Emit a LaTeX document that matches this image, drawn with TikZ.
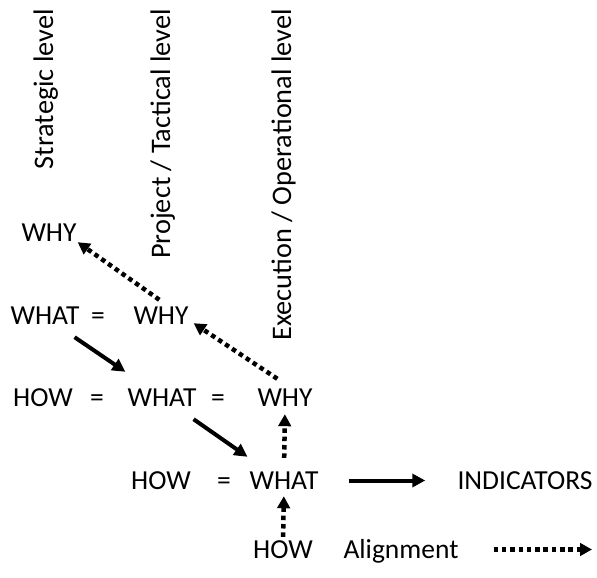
\documentclass[tikz,border=0pt]{standalone}
\usepackage{fontspec}
\setmainfont{Carlito}
\usetikzlibrary{arrows.meta,calc}
\begin{document}
\begin{tikzpicture}[x=1pt,y=-1pt,
  word/.style={inner sep=0pt,anchor=base,text height=17pt,text depth=0pt,font=\fontsize{27.5}{30}\selectfont},
  levellabel/.style={inner sep=0pt,anchor=base east,rotate=90,font=\fontsize{28.3}{30}\selectfont},
  solidarrow/.style={line width=4pt,-{Triangle[length=13pt,width=13pt]}},
  dotarrow/.style={line width=4.5pt,dash pattern=on 4.5pt off 3.8pt,-{Triangle[length=12pt,width=12.5pt]}}]
\useasboundingbox (0,0) rectangle (597,578);
% level labels
\node[levellabel] (lstrat) at (53,9) {Strategic level};
\node[levellabel] (lproj) at (170,9) {Project / Tactical level};
\node[levellabel] (lexec) at (291,9) {Execution / Operational level};
% row 1
\node[word] (why1) at (49,241) {WHY};
% row 2
\node[word] (what2) at (45,324) {WHAT};
\node[word] (eq2) at (98,324) {=};
\node[word] (why2) at (161,324) {WHY};
% row 3
\node[word] (how3) at (43,406) {HOW};
\node[word] (eq3a) at (97,406) {=};
\node[word] (what3) at (162,406) {WHAT};
\node[word] (eq3b) at (218,406) {=};
\node[word] (why3) at (285,406) {WHY};
% row 4
\node[word] (how4) at (161,489) {HOW};
\node[word] (eq4) at (224,489) {=};
\node[word] (what4) at (284,489) {WHAT};
\node[word] (ind) at (525,489) {INDICATORS};
% row 5
\node[word] (how5) at (283,558) {HOW};
\node[word] (align) at (401,558) {Alignment};
\coordinate (legendend) at (592,549.5);
% arrows
\draw[dotarrow] ($(why2.north west)+(26,-7)$) -- ($(why1.south east)+(1,1)$);
\draw[dotarrow] ($(why3.north west)+(20,-10)$) -- ($(why2.south east)+(5,-1)$);
\draw[solidarrow] ($(what2.south east)+(-5,13)$) -- ($(what3.north west)+(-2,-17)$);
\draw[solidarrow] ($(what3.south east)+(-3,13)$) -- ($(what4.north west)+(-2,-15)$);
\draw[dotarrow,shorten <=14pt,shorten >=8pt] (what4.north) -- (why3.south);
\draw[dotarrow,shorten <=4pt,shorten >=7pt] (how5.north) -- (what4.south);
\draw[solidarrow,shorten <=30pt,shorten >=32pt] (what4.east) -- (ind.west);
\draw[dotarrow,shorten <=35pt] (align.east |- legendend) -- (legendend);
\end{tikzpicture}
\end{document}
